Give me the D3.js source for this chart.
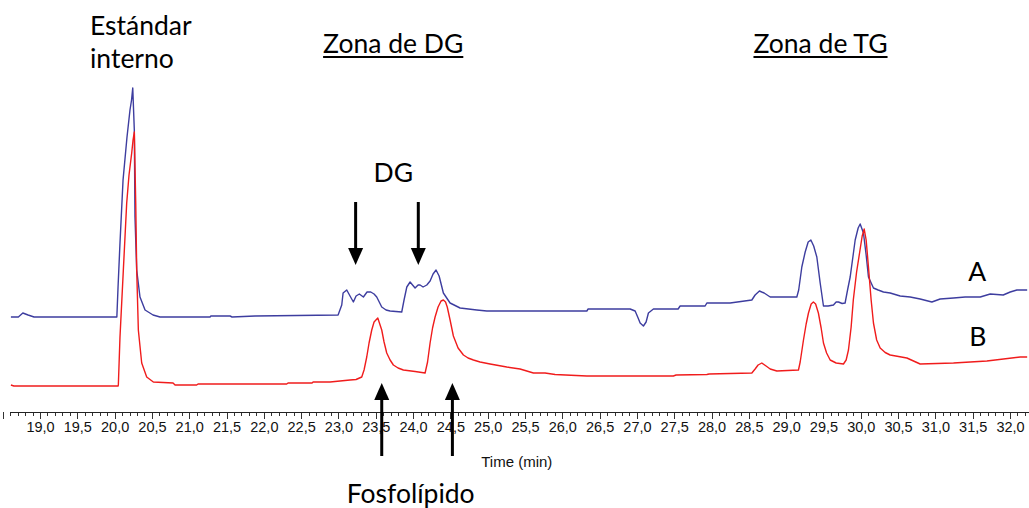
<!DOCTYPE html>
<html>
<head>
<meta charset="utf-8">
<script src="https://cdn.jsdelivr.net/npm/d3@7"></script>
<style>
  html, body { margin: 0; padding: 0; background: #fff; overflow: hidden; }
  svg { display: block; }
</style>
</head>
<body>
<svg id="chart" width="1029" height="508"></svg>
<script>
// ---------- DATA ----------
// Trace A (blue): retention time (min) and detector signal (arbitrary units)
const timeA = [18.61,18.71,18.77,18.84,18.92,20.03,20.046,20.072,20.113,20.166,20.206,20.227,20.243,20.264,20.273,20.296,20.34,20.408,20.515,20.609,21.279,21.29,21.547,21.574,21.882,22.995,23.044,23.062,23.111,23.155,23.2,23.236,23.28,23.334,23.383,23.433,23.477,23.513,23.58,23.638,23.692,23.848,23.879,23.916,23.96,23.993,24.027,24.067,24.094,24.134,24.184,24.228,24.268,24.308,24.349,24.406,24.496,24.63,24.854,24.988,26.329,26.346,26.909,26.976,27.016,27.043,27.087,27.123,27.154,27.221,27.552,27.579,27.914,27.937,28.249,28.54,28.584,28.642,28.705,28.786,29.143,29.168,29.21,29.255,29.295,29.331,29.369,29.411,29.456,29.5,29.563,29.634,29.67,29.701,29.75,29.79,29.823,29.858,29.898,29.925,29.965,29.992,30.036,30.072,30.103,30.17,30.233,30.304,30.394,30.528,30.662,30.796,30.953,31.064,31.243,31.399,31.601,31.735,31.909,32.003,32.092,32.23];
const signalA = [94,94,98,96,94,94,124,168,231,274,301,311,323,281,194,141,114,101,96,94,94,95,95,94,95,96,106,118,121,115,109,115,117,114,119,119,117,114,104,101,100,99,111,124,129,126,123,126,126,124,126,130,137,141,135,118,108,103,101,100,100,102,102,100,93,88,85,89,98,102,102,105,105,108,108,111,116,120,118,114,114,121,144,159,169,171,165,154,128,105,105,106,109,109,107.5,108,121,134,156,171,183,187,178,156,134,123,121,119,118,115,114,112,109,112,113,114,114,117,116,119,121,121];

// Trace B (red)
const timeB = [18.61,18.65,20.046,20.05,20.072,20.117,20.162,20.193,20.229,20.247,20.264,20.283,20.296,20.318,20.363,20.43,20.519,20.783,20.81,21.1,21.118,22.307,22.324,22.646,22.66,22.887,23.155,23.236,23.312,23.343,23.379,23.41,23.446,23.477,23.527,23.58,23.611,23.647,23.692,23.736,23.799,23.87,24.027,24.161,24.194,24.228,24.261,24.295,24.335,24.375,24.406,24.435,24.458,24.496,24.54,24.603,24.675,24.737,24.809,24.898,25.032,25.256,25.434,25.613,25.769,25.903,26.329,27.489,27.525,27.937,27.968,28.54,28.584,28.624,28.674,28.731,28.786,28.875,29.165,29.188,29.232,29.268,29.299,29.335,29.365,29.395,29.432,29.469,29.5,29.542,29.59,29.67,29.768,29.804,29.835,29.871,29.9,29.944,29.99,30.019,30.046,30.072,30.103,30.139,30.17,30.213,30.26,30.327,30.394,30.618,30.796,31.243,31.69,32.137,32.23];
const signalB = [26,25,25,26,74,141,208,236,258,271,279,208,141,81,48,34,29,28,26,26,27,27,28,28,29,29,31,31.5,34,41,54,68,81,89,93,81,69,58,51,46,43,41,39.5,38,49,68,83,94,104,110,111,109,104,91,75,63,56,53,51,49,47,44,42,38,38,36.5,35,35,36,36.5,37,38,42,46,48,45,42,40,41,49,71,87,98,107,109,107,98,83,68,58,51,48,47,51,61,84,111,139,161,175,182,171,144,111,88,71,63,58.5,56,53,47,48,50,54,54];

// Axis tick values (min)
const majorTicks = d3.range(37, 65).map(i => i / 2);          // 18.5 … 32.0 (tick marks)
const labelTicks = d3.range(38, 65).map(i => i / 2);          // 19.0 … 32.0 (labelled)
const minorTicks = d3.range(186, 323).map(i => i / 10);       // 18.6 … 32.2

// Annotations
const annotTexts  = ["Estándar", "interno", "Zona de DG", "Zona de TG", "DG", "A", "B", "Fosfolípido"];
const annotTimes  = [19.67, 19.67, 22.794, 28.562, 23.736, 31.44, 31.453, 23.111];
const annotSignal = [376, 343, 358, 358, 229, 130, 65, -92];
const annotAnchor = ["start", "start", "start", "start", "middle", "start", "start", "start"];
const annotUnder  = [false, false, true, true, false, false, false, false];

// Arrows: time, tail signal, tip signal
const arrowTimes = [23.23, 24.07, 23.58, 24.527];
const arrowTail  = [209, 209, -45, -45];
const arrowTip   = [146, 146, 28, 28];

// ---------- CHART ----------
const svg = d3.select("#chart");
const x = d3.scaleLinear().domain([19, 32]).range([40, 1010]);
const y = d3.scaleLinear().domain([0, 330]).range([411, 81]);
const axisY = 412;
const axisFont = "'Liberation Sans', Arial, sans-serif";

const fmt = v => d3.format(".1f")(v).replace(".", ",");

// Minor ticks
svg.append("g")
  .attr("transform", `translate(0,${axisY})`)
  .call(d3.axisBottom(x).tickValues(minorTicks).tickSize(4).tickFormat(""))
  .call(g => g.select(".domain").remove())
  .call(g => g.selectAll("line").attr("stroke", "#333").attr("shape-rendering", "crispEdges"));

// Major ticks
svg.append("g")
  .attr("transform", `translate(0,${axisY})`)
  .call(d3.axisBottom(x).tickValues(majorTicks).tickSize(7).tickFormat(""))
  .call(g => g.select(".domain").remove())
  .call(g => g.selectAll("line").attr("stroke", "#333").attr("shape-rendering", "crispEdges"));

// Labels
svg.append("g")
  .attr("transform", `translate(0,${axisY})`)
  .call(d3.axisBottom(x).tickValues(labelTicks).tickSize(7).tickPadding(3).tickFormat(fmt))
  .call(g => g.select(".domain").remove())
  .call(g => g.selectAll("line").remove())
  .call(g => g.selectAll("text")
      .attr("fill", "#111")
      .style("font-family", axisFont)
      .style("font-size", "14.5px"));

// Axis line
svg.append("line")
  .attr("x1", x(18.6)).attr("x2", x(32.27))
  .attr("y1", axisY + 0.5).attr("y2", axisY + 0.5)
  .attr("stroke", "#222").attr("stroke-width", 1);

// Axis title
svg.append("text")
  .attr("x", x(25.39)).attr("y", 467)
  .attr("text-anchor", "middle")
  .attr("fill", "#111")
  .style("font-family", axisFont)
  .style("font-size", "15px")
  .text("Time (min)");

// Traces
const line = d3.line().x(d => x(d[0])).y(d => y(d[1]));
const dataA = timeA.map((t, i) => [t, signalA[i]]);
const dataB = timeB.map((t, i) => [t, signalB[i]]);

svg.append("path").datum(dataA)
  .attr("d", line).attr("fill", "none")
  .attr("stroke", "#3d3d9f").attr("stroke-width", 1.4).attr("stroke-linejoin", "round");
svg.append("path").datum(dataB)
  .attr("d", line).attr("fill", "none")
  .attr("stroke", "#f01c1c").attr("stroke-width", 1.4).attr("stroke-linejoin", "round");

// Arrows
const headLen = 17, headHalf = 7.5;
arrowTimes.forEach((t, i) => {
  const ax = x(t), y0 = y(arrowTail[i]), y1 = y(arrowTip[i]);
  const dir = Math.sign(y1 - y0);
  svg.append("line")
    .attr("x1", ax).attr("x2", ax)
    .attr("y1", y0).attr("y2", y1 - dir * headLen + dir * 2)
    .attr("stroke", "#000").attr("stroke-width", 3);
  svg.append("path")
    .attr("d", `M${ax - headHalf},${y1 - dir * headLen} L${ax + headHalf},${y1 - dir * headLen} L${ax},${y1} Z`)
    .attr("fill", "#000");
});

// Text annotations
annotTexts.forEach((txt, i) => {
  const tEl = svg.append("text")
    .attr("x", x(annotTimes[i])).attr("y", y(annotSignal[i]))
    .attr("text-anchor", annotAnchor[i])
    .attr("fill", "#000")
    .style("font-family", "Lato, 'Open Sans', sans-serif")
    .style("font-size", "26.5px")
    .text(txt);
  if (annotUnder[i]) {
    const w = tEl.node().getComputedTextLength();
    svg.append("line")
      .attr("x1", x(annotTimes[i])).attr("x2", x(annotTimes[i]) + w)
      .attr("y1", y(annotSignal[i]) + 4).attr("y2", y(annotSignal[i]) + 4)
      .attr("stroke", "#000").attr("stroke-width", 2);
  }
});
</script>
</body>
</html>
